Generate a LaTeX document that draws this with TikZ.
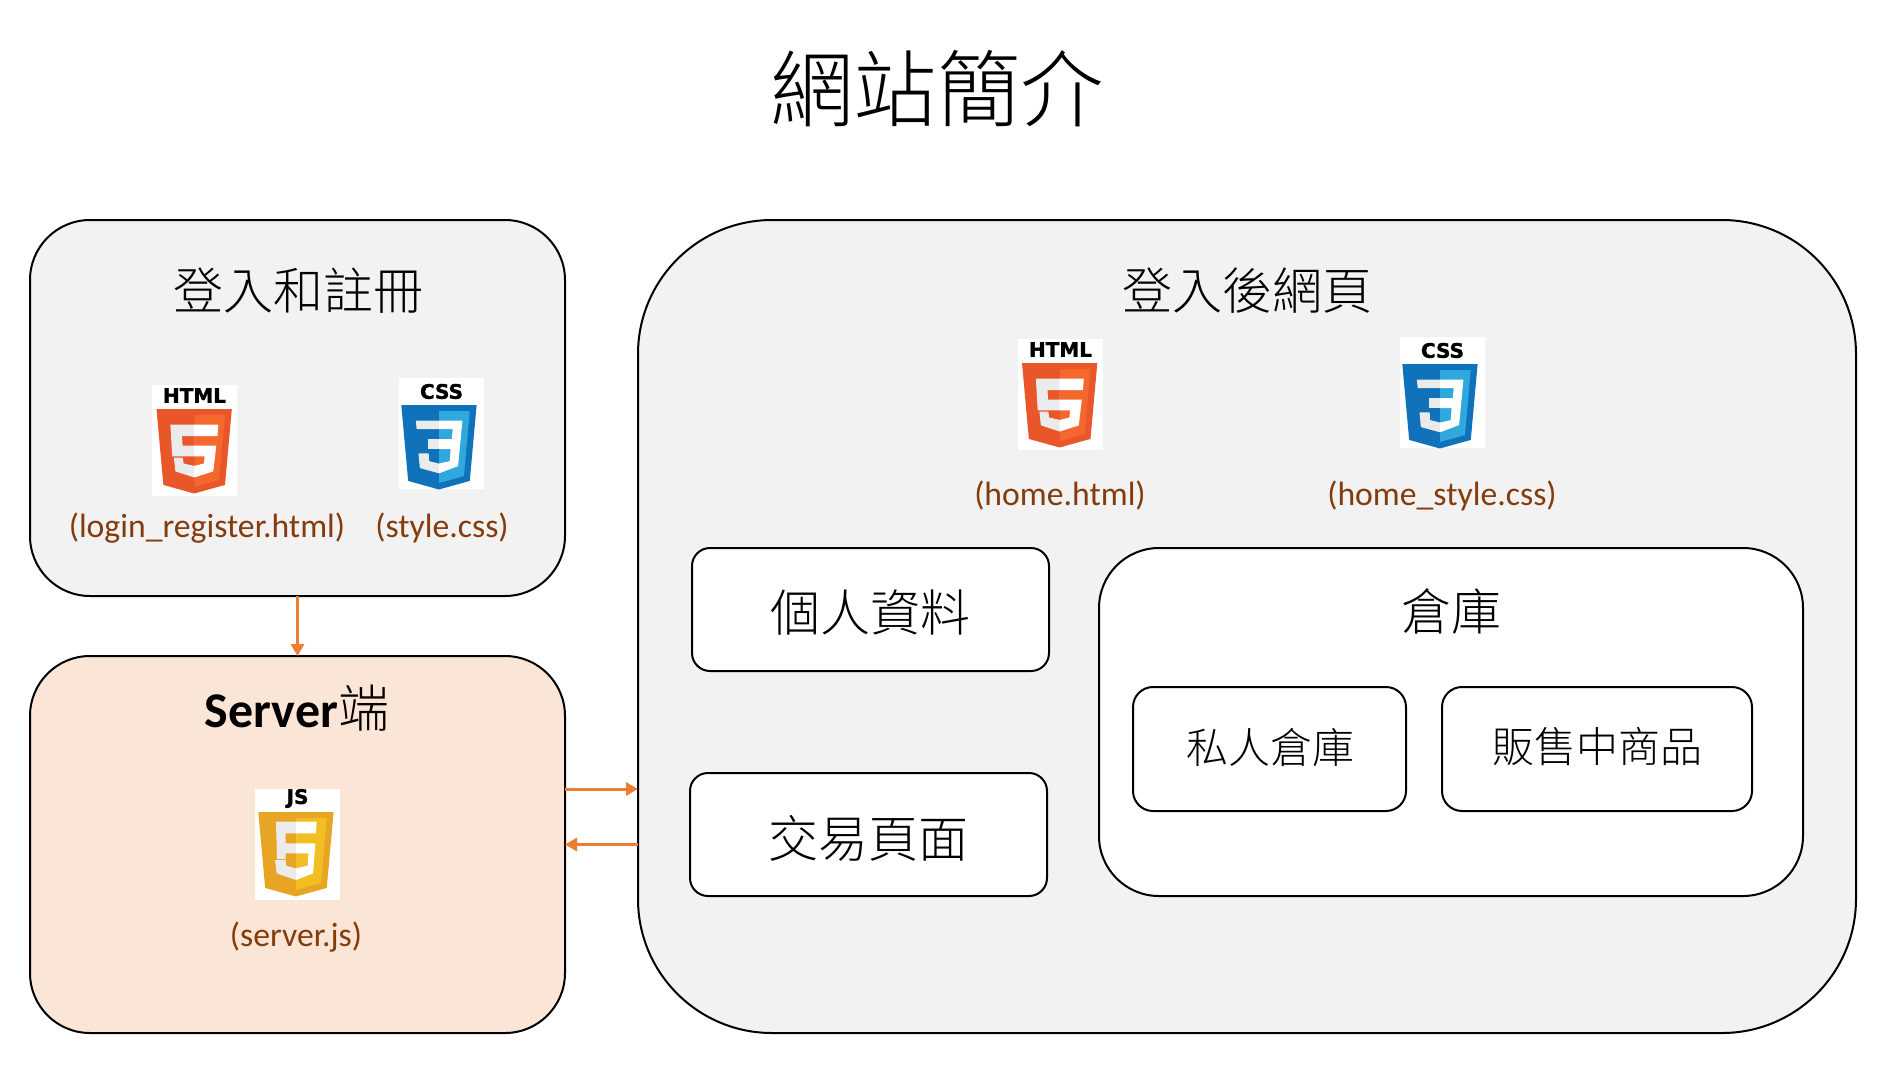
\documentclass[tikz,border=0pt]{standalone}
\usepackage{fontspec}
\usetikzlibrary{arrows.meta}
\setmainfont{Carlito}
\newfontfamily\cjk{Noto Sans CJK TC}[UprightFont=* Light]
\newfontfamily\logofont{DejaVu Sans}[BoldFont=* Bold, BoldFeatures={FakeBold=1.6}]
\definecolor{panelgray}{HTML}{F2F2F2}
\definecolor{serverfill}{HTML}{FBE5D6}
\definecolor{filebrown}{HTML}{843C0C}
\definecolor{arroworange}{HTML}{ED7D31}
\definecolor{htmldark}{HTML}{E8562A}
\definecolor{htmllight}{HTML}{F4682E}
\definecolor{cssdark}{HTML}{0F72BA}
\definecolor{csslight}{HTML}{2FA8DE}
\definecolor{jsdark}{HTML}{E8A524}
\definecolor{jslight}{HTML}{F2BE24}
\tikzset{
  panel/.style={draw=black, line width=1pt, inner sep=0pt, outer sep=0pt, rounded corners=#1},
  filelabel/.style={text=filebrown, font=\fontsize{16.85}{18}\selectfont, inner sep=0pt},
  zhlabel/.style={font=\cjk\fontsize{25}{28}\selectfont, inner sep=0pt},
  zhsmall/.style={font=\cjk\fontsize{21}{24}\selectfont, inner sep=0pt},
  logoword/.style={font=\logofont\bfseries\fontsize{10}{10}\selectfont, inner sep=0pt},
  linkarrow/.style={draw=arroworange, line width=1.5pt, -{Triangle[length=6pt,width=6.5pt]}}
}
% glyphs inside the shields
\def\glyphfive{%
  \fill[black!8] (256,95) -- (113,95) -- (124,287) -- (256,287) -- (256,222) -- (186,222) -- (183,165) -- (256,165) -- cycle;
  \fill[black!8] (256,345) -- (192,330) -- (188,295) -- (134,295) -- (143,378) -- (256,415) -- cycle;
  \fill[white] (255.8,95) -- (400,95) -- (395,165) -- (255.8,165) -- (255.8,222) -- (388,222) -- (370,378) -- (255.8,415) -- (255.8,345) -- (314,330) -- (318,287) -- (255.8,287) -- cycle;
}
\def\glyphscript{%
  \fill[black!8] (256,59) -- (136,59) -- (142,285) -- (194,285) -- (194,250) -- (256,250) -- (256,190) -- (194,190) -- (194,129) -- (256,129) -- cycle;
  \fill[black!8] (256,342) -- (196,325) -- (194,291) -- (130,291) -- (140,372) -- (256,412) -- cycle;
  \fill[white] (255.8,59) -- (379,59) -- (375,129) -- (255.8,129) -- (255.8,190) -- (372,190) -- (358,372) -- (255.8,412) -- (255.8,342) -- (326,325) -- (330,250) -- (255.8,250) -- cycle;
}
\def\glyphthree{%
  \fill[black!8] (256,95) -- (117,95) -- (122,146) -- (256,146) -- cycle;
  \fill[black!8] (256,207) -- (188,207) -- (188,268) -- (256,268) -- cycle;
  \fill[black!8] (256,355) -- (196,340) -- (194,293) -- (133,293) -- (141,382) -- (256,414) -- cycle;
  \fill[white] (255.8,95) -- (396,95) -- (370,370) -- (255.8,414) -- (255.8,355) -- (320,340) -- (325,268) -- (255.8,268) -- (255.8,207) -- (332,207) -- (338,146) -- (255.8,146) -- cycle;
}
% name, left, top, dark, light, word, glyph, shield offset x, shield offset y
\newcommand{\weblogo}[9]{%
  \fill[white] (#2,#3) rectangle ++(85,111);
  \node[logoword] (#1) at (#2+42.5,#3+#9-13.5) {#6};
  \begin{scope}[shift={(#2+#8-5,#3+#9)}, x=0.0835pt, y=-0.0825pt]
    \fill[#4] (71,460) -- (30,0) -- (481,0) -- (440,460) -- (255,512) -- cycle;
    \fill[#5] (256,472) -- (405,431) -- (440,37) -- (256,37) -- cycle;
    #7
  \end{scope}
}
\begin{document}
\begin{tikzpicture}[x=0.5pt, y=-0.5pt]
  \useasboundingbox (0,0) rectangle (1881,1072);
  \node[font=\cjk\fontsize{41.7}{46}\selectfont, inner sep=0pt] (title) at (937,89) {網站簡介};

  % left column
  \node[panel=30pt, fill=panelgray, minimum width=267.5pt, minimum height=188pt] (login) at (297.5,408) {};
  \node[panel=30pt, fill=serverfill, minimum width=267.5pt, minimum height=188.5pt] (server) at (297.5,844.5) {};
  \node[zhlabel] (logintitle) at (298,291) {登入和註冊};
  \node[inner sep=0pt, font=\fontsize{25}{28}\selectfont] (servertitle) at (297,708) {\textbf{Server}{\cjk\fontsize{25.5}{28}\selectfont 端}};
  \weblogo{htmlone}{152}{385}{htmldark}{htmllight}{HTML}{\glyphfive}{4.5}{24}
  \weblogo{cssone}{399}{378}{cssdark}{csslight}{CSS}{\glyphthree}{2.3}{27}
  \weblogo{jsone}{255}{789}{jsdark}{jslight}{JS}{\glyphscript}{3.3}{23}
  \node[filelabel] (loginfile) at (207,528) {(login\_register.html)};
  \node[filelabel] (stylefile) at (442,528) {(style.css)};
  \node[filelabel] (serverfile) at (296,937) {(server.js)};

  % right panel
  \node[panel=67pt, fill=panelgray, minimum width=609pt, minimum height=406.5pt] (web) at (1247,626.5) {};
  \node[zhlabel] (webtitle) at (1247,291) {登入後網頁};
  \weblogo{htmltwo}{1018}{339}{htmldark}{htmllight}{HTML}{\glyphfive}{4}{24}
  \weblogo{csstwo}{1400}{337}{cssdark}{csslight}{CSS}{\glyphthree}{2.3}{27}
  \node[filelabel] (homefile) at (1060,496) {(home.html)};
  \node[filelabel] (homestyle) at (1442,496) {(home\_style.css)};

  \node[panel=9pt, fill=white, minimum width=178.5pt, minimum height=61.5pt] (profile) at (870.5,609.5) {};
  \node[zhlabel] (profiletext) at (870,613) {個人資料};
  \node[panel=9pt, fill=white, minimum width=178.5pt, minimum height=61.5pt] (trade) at (868.5,834.5) {};
  \node[zhlabel] (tradetext) at (868,838) {交易頁面};
  \node[panel=30pt, fill=white, minimum width=352pt, minimum height=174pt] (store) at (1451,722) {};
  \node[zhlabel] (storetitle) at (1451,611) {倉庫};
  \node[panel=10pt, fill=white, minimum width=136.5pt, minimum height=62pt] (private) at (1269.5,749) {};
  \node[zhsmall] (privatetext) at (1270,747) {私人倉庫};
  \node[panel=10pt, fill=white, minimum width=155pt, minimum height=62pt] (selling) at (1597,749) {};
  \node[zhsmall] (sellingtext) at (1597,747) {販售中商品};

  % arrows
  \coordinate (sendy) at (0,789);
  \coordinate (backy) at (0,844.5);
  \draw[linkarrow] (login) -- (server);
  \draw[linkarrow] (server.east |- sendy) -- (web.west |- sendy);
  \draw[linkarrow] (web.west |- backy) -- (server.east |- backy);
\end{tikzpicture}
\end{document}
